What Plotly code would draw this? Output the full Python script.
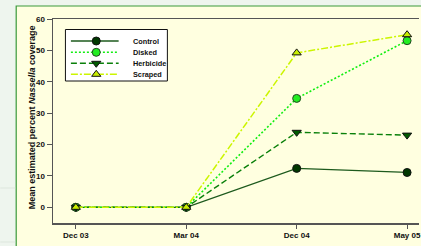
import plotly.graph_objects as go

# ---- data ----
dates = ["Dec 03", "Mar 04", "Dec 04", "May 05"]
control = [0, 0, 12.4, 11.1]
disked = [0, 0, 34.7, 53.1]
herbicide = [0, 0, 23.9, 23.0]
scraped = [0, 0, 49.2, 55.0]
series_names = ["Control", "Disked", "Herbicide", "Scraped"]
y_ticks = [0, 10, 20, 30, 40, 50, 60]

# ---- styles ----
styles = {
    "Control": dict(line=dict(color="#1d5a1d", width=1.3, dash="solid"),
                    marker=dict(symbol="circle", size=8, color="#003800",
                                line=dict(color="#111", width=1))),
    "Disked": dict(line=dict(color="#11ee11", width=1.6, dash="2px,2px"),
                   marker=dict(symbol="circle", size=8, color="#22ee22",
                               line=dict(color="#224422", width=1))),
    "Herbicide": dict(line=dict(color="#0a800a", width=1.4, dash="6px,3px"),
                      marker=dict(symbol="triangle-down", size=8, color="#005a00",
                                  line=dict(color="#111", width=1))),
    "Scraped": dict(line=dict(color="#ccf500", width=1.5, dash="7px,2px,2px,2px"),
                    marker=dict(symbol="triangle-up", size=8, color="#c8ee00",
                                line=dict(color="#111", width=1))),
}
values = {"Control": control, "Disked": disked, "Herbicide": herbicide, "Scraped": scraped}

W, H = 421, 246
L, R, T, B = 53, 0, 19, 23
FONT = "Liberation Sans, Arial, sans-serif"

fig = go.Figure()
for name in series_names:
    fig.add_trace(go.Scatter(x=dates, y=values[name], mode="lines+markers",
                             name=name, showlegend=False, cliponaxis=False,
                             **styles[name]))

# ---- custom legend on an overlay pixel-unit axis ----
leg_y = [41, 52.3, 63.3, 74.3]
for name, ly in zip(series_names, leg_y):
    st = styles[name]
    fig.add_trace(go.Scatter(x=[71, 119], y=[ly, ly], mode="lines", line=st["line"],
                             xaxis="x2", yaxis="y2", showlegend=False, hoverinfo="skip"))
    fig.add_trace(go.Scatter(x=[96.5], y=[ly], mode="markers", marker=st["marker"],
                             xaxis="x2", yaxis="y2", showlegend=False, hoverinfo="skip"))
    fig.add_annotation(x=131, y=ly, xref="x2", yref="y2", text="<b>%s</b>" % name,
                       showarrow=False, xanchor="left", yanchor="middle",
                       font=dict(family=FONT, size=7.3, color="#111"))

shapes = [
    # yellow chart area with green border
    dict(type="rect", xref="paper", yref="paper",
         x0=(16 - L) / (W - L - R), x1=1.2,
         y0=-0.3, y1=(H - B - 6) / (H - T - B),
         fillcolor="#ffffe0", line=dict(color="#3a9a3a", width=1.2), layer="below"),
    # faint lines on the left margin
    dict(type="line", xref="paper", yref="paper",
         x0=-L / (W - L - R), x1=(15 - L) / (W - L - R),
         y0=(H - B - 188) / (H - T - B), y1=(H - B - 188) / (H - T - B),
         line=dict(color="#dde6dd", width=1), layer="below"),
    dict(type="line", xref="paper", yref="paper",
         x0=-L / (W - L - R), x1=(15 - L) / (W - L - R),
         y0=(H - B - 242) / (H - T - B), y1=(H - B - 242) / (H - T - B),
         line=dict(color="#dde6dd", width=1), layer="below"),
    # legend box
    dict(type="rect", xref="x2", yref="y2", x0=65.5, x1=168, y0=29.5, y1=81,
         fillcolor="white", line=dict(color="#111", width=1), layer="below"),
]

fig.add_annotation(x=(25 - L) / (W - L - R), y=(H - B - 117) / (H - T - B),
                   xref="paper", yref="paper",
                   text="<b>Mean estimated percent <i>Nassella</i> coverage</b>",
                   textangle=-90, showarrow=False,
                   font=dict(family=FONT, size=9, color="#111"))

fig.update_layout(
    width=W, height=H,
    margin=dict(l=L, r=R, t=T, b=B, pad=0),
    paper_bgcolor="#eef5ee", plot_bgcolor="rgba(0,0,0,0)",
    shapes=shapes,
    font=dict(family=FONT, size=8, color="#111"),
    xaxis=dict(type="category", categoryorder="array", categoryarray=dates,
               range=[-0.207, 3.108], showgrid=False, zeroline=False,
               showline=True, linecolor="#555", linewidth=1.5, mirror=True,
               ticks="outside", ticklen=4, tickcolor="#555", tickwidth=1,
               tickfont=dict(family=FONT, size=8, weight="bold", color="#111")),
    yaxis=dict(range=[-5, 60], tickvals=y_ticks, showgrid=False, zeroline=False,
               showline=True, linecolor="#555", linewidth=1.5,
               ticks="outside", ticklen=5, tickcolor="#555", tickwidth=1,
               tickfont=dict(family=FONT, size=8, weight="bold", color="#111")),
    xaxis2=dict(overlaying="x", range=[L, W - R], visible=False, fixedrange=True),
    yaxis2=dict(overlaying="y", range=[H - B, T], visible=False, fixedrange=True),
    showlegend=False,
)

fig.write_html("out.html",
               config={"displayModeBar": False, "staticPlot": True},
               post_script="document.body.style.margin='0';"
                           "document.body.style.background='#eef5ee';"
                           "document.body.style.overflow='hidden';")
